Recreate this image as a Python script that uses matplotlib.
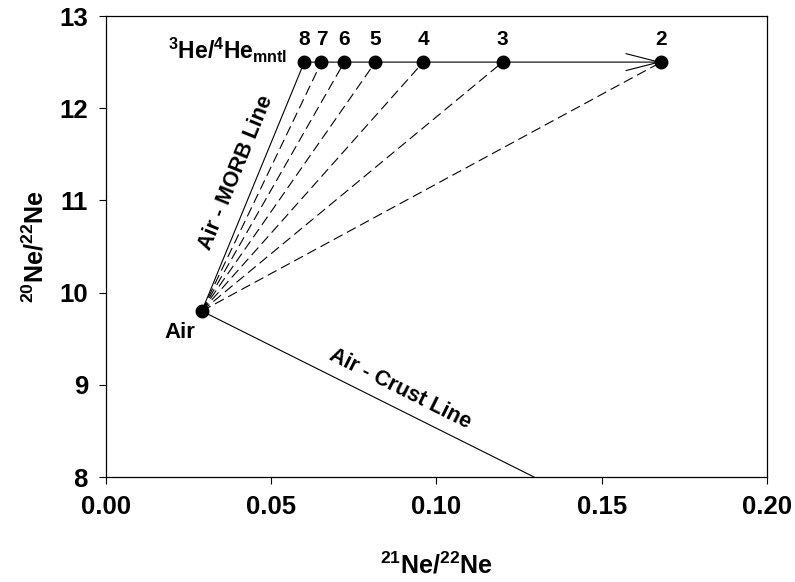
import matplotlib
matplotlib.use("Agg")
import matplotlib.pyplot as plt

plt.rcParams['font.family'] = ['Liberation Sans', 'DejaVu Sans']
plt.rcParams['font.weight'] = 'bold'
plt.rcParams['mathtext.fontset'] = 'custom'
plt.rcParams['mathtext.rm'] = 'Liberation Sans:bold'
plt.rcParams['mathtext.bf'] = 'Liberation Sans:bold'
plt.rcParams['mathtext.it'] = 'Liberation Sans:bold'

# Data
air_x, air_y = 0.029, 9.8
mantle_labels = ['8', '7', '6', '5', '4', '3', '2']
mantle_x = [0.060, 0.0652, 0.0721, 0.0815, 0.096, 0.120, 0.168]
mantle_y = [12.5, 12.5, 12.5, 12.5, 12.5, 12.5, 12.5]
crust_end_x, crust_end_y = 0.1295, 8.0

fig = plt.figure(figsize=(7.95, 5.82), dpi=100)
ax = fig.add_axes([0.1333, 0.1804, 0.8315, 0.7921])

lw = 0.8
# Air - MORB (solid) line to 8
ax.plot([air_x, mantle_x[0]], [air_y, mantle_y[0]], color='black', lw=lw, zorder=2)
# dashed lines to other mantle points
for mx, my in zip(mantle_x[1:], mantle_y[1:]):
    ax.plot([air_x, mx], [air_y, my], color='black', lw=lw, ls=(0, (9, 4.5)), zorder=2)
# Air - Crust line
ax.plot([air_x, crust_end_x], [air_y, crust_end_y], color='black', lw=lw, zorder=2)

# horizontal mantle line with open arrow at 2
ax.annotate('', xy=(mantle_x[-1], mantle_y[-1]), xytext=(mantle_x[0], mantle_y[0]),
            arrowprops=dict(arrowstyle='->,head_length=23.8,head_width=6.1',
                            mutation_scale=1, color='black', lw=lw,
                            shrinkA=0, shrinkB=0), zorder=2)

# points
ax.plot([air_x], [air_y], 'o', color='black', ms=9, zorder=3, clip_on=False)
ax.plot(mantle_x, mantle_y, 'o', color='black', ms=9, zorder=3, clip_on=False)

for lab, mx, my in zip(mantle_labels, mantle_x, mantle_y):
    ax.text(mx, my + 0.24, lab, ha='center', va='center', fontsize=15, fontweight='bold')

ax.text(0.0224, 9.57, 'Air', ha='center', va='center', fontsize=16, fontweight='bold')
ax.text(0.0548, 12.63, r'$\mathbf{^3He/^4He_{mntl}}$', ha='right', va='center', fontsize=16.5)
ax.text(0.0395, 11.30, 'Air - MORB Line', ha='center', va='center', fontsize=15.5,
        fontweight='bold', rotation=67.7, rotation_mode='anchor')
ax.text(0.089, 8.95, 'Air - Crust Line', ha='center', va='center', fontsize=15.5,
        fontweight='bold', rotation=-26.6, rotation_mode='anchor')

ax.set_xlim(0, 0.20)
ax.set_ylim(8, 13)
ax.set_xticks([0.00, 0.05, 0.10, 0.15, 0.20])
ax.set_xticklabels(['0.00', '0.05', '0.10', '0.15', '0.20'])
ax.set_yticks([8, 9, 10, 11, 12, 13])
ax.tick_params(direction='out', length=5, width=0.8, labelsize=18.5, pad=8)
for t in ax.get_xticklabels() + ax.get_yticklabels():
    t.set_fontweight('bold')
for s in ax.spines.values():
    s.set_linewidth(0.9)

ax.set_xlabel(r'$\mathbf{^{21}Ne/^{22}Ne}$', fontsize=18, labelpad=24)
ax.set_ylabel(r'$\mathbf{^{20}Ne/^{22}Ne}$', fontsize=18, labelpad=8)

fig.savefig('out.png', dpi=100)
